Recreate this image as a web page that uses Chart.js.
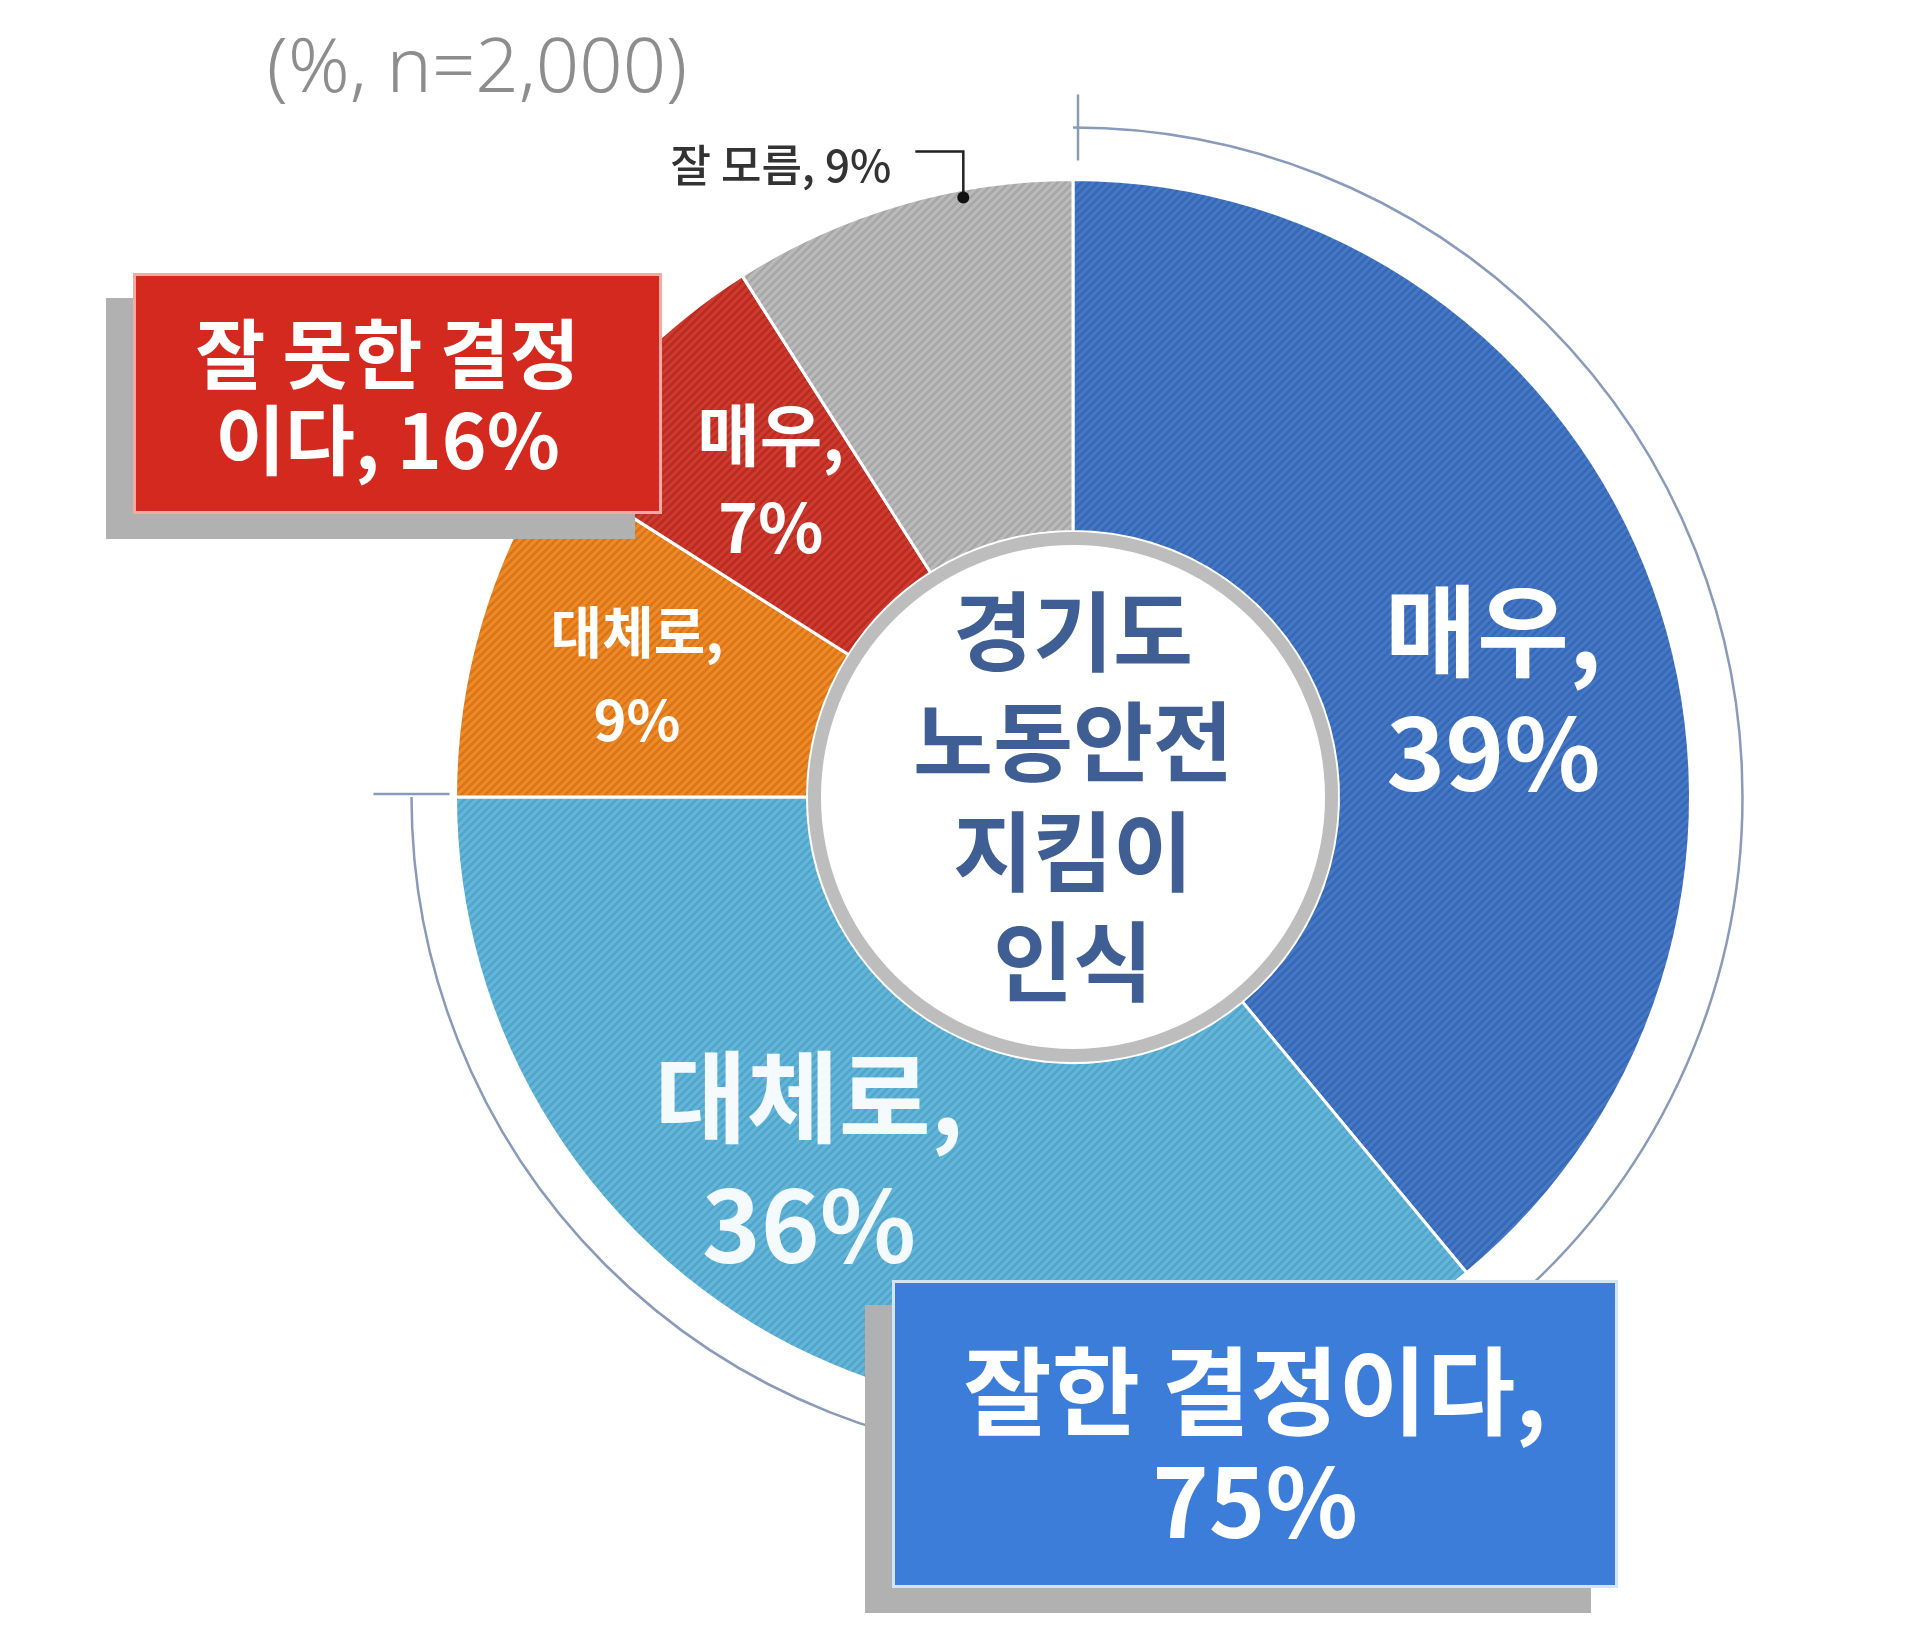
<!DOCTYPE html>
<html lang="ko">
<head>
<meta charset="utf-8">
<title>경기도 노동안전 지킴이 인식</title>
<script src="https://cdn.jsdelivr.net/npm/chart.js@4.4.1/dist/chart.umd.min.js"></script>
<style>
  html, body { margin: 0; padding: 0; background: #fff; }
  #wrap { position: relative; width: 1920px; height: 1633px; }
</style>
</head>
<body>
<div id="wrap"><canvas id="chart"></canvas></div>
<script>
// data
const sliceLabels = ['매우', '대체로', '대체로', '매우', '잘 모름'];
const sliceValues = [39, 36, 9, 7, 9];
const groupLabels = ['잘한 결정이다', '잘 못한 결정이다'];
const groupValues = [75, 16];
const centerLines = ['경기도', '노동안전', '지킴이', '인식'];
const subtitle = '(%, n=2,000)';

// styling
const baseColors = ['#4477c4', '#64b6d9', '#ee8a26', '#cf3a2e', '#bababa'];
const stripeColors = ['#3768b6', '#51a5cb', '#d9741a', '#b82c22', '#a6a6a6'];
const labelShift = [[5, 45], [-76, -35], [-12, 2], [10, -4], [0, 0]];
const labelSize = [100, 100, 56, 68, 0];
const labelGap = [122, 128, 88, 92, 0];
const KR = "'Noto Sans CJK KR', 'Noto Sans', sans-serif";

const canvas = document.getElementById('chart');

function stripes(base, line) {
  const c = document.createElement('canvas');
  c.width = 8; c.height = 8;
  const g = c.getContext('2d');
  g.fillStyle = base;
  g.fillRect(0, 0, 8, 8);
  g.strokeStyle = line;
  g.lineWidth = 2.5;
  g.beginPath();
  g.moveTo(-2, 10); g.lineTo(10, -2);
  g.moveTo(-2, 2); g.lineTo(2, -2);
  g.moveTo(6, 10); g.lineTo(10, 6);
  g.stroke();
  return canvas.getContext('2d').createPattern(c, 'repeat');
}

const patterns = baseColors.map((c, i) => stripes(c, stripeColors[i]));

function twoLines(ctx, lines, x, y, gap) {
  ctx.fillText(lines[0], x, y - gap / 2);
  ctx.fillText(lines[1], x, y + gap / 2);
}

function drawBox(ctx, x, y, w, h, fill, edge, lines, size, gap, dx, dy) {
  ctx.fillStyle = '#b1b1b1';
  ctx.fillRect(x - 27, y + 25, w, h);
  ctx.fillStyle = fill;
  ctx.fillRect(x, y, w, h);
  ctx.strokeStyle = edge;
  ctx.lineWidth = 3;
  ctx.strokeRect(x + 1.5, y + 1.5, w - 3, h - 3);
  ctx.fillStyle = '#ffffff';
  ctx.font = `700 ${size}px ${KR}`;
  twoLines(ctx, lines, x + w / 2 + dx, y + h / 2 + dy, gap);
}

const overlay = {
  id: 'overlay',
  afterDatasetsDraw(chart) {
    const ctx = chart.ctx;
    const arcs = chart.getDatasetMeta(0).data;
    const cx = arcs[0].x, cy = arcs[0].y;
    const inner = arcs[0].innerRadius, outer = arcs[0].outerRadius;
    ctx.save();
    ctx.textAlign = 'center';
    ctx.textBaseline = 'middle';

    // centre disc
    ctx.beginPath();
    ctx.arc(cx, cy, inner - 7, 0, Math.PI * 2);
    ctx.fillStyle = '#ffffff';
    ctx.fill();
    ctx.lineWidth = 13;
    ctx.strokeStyle = '#bdbdbd';
    ctx.stroke();
    ctx.fillStyle = '#3f5e94';
    ctx.font = `700 87px ${KR}`;
    centerLines.forEach((t, i) => ctx.fillText(t, cx, cy + (i - 1.5) * 110));

    // labels inside slices
    arcs.forEach((arc, i) => {
      if (!labelSize[i]) return;
      const p = arc.getCenterPoint();
      ctx.fillStyle = i === 1 ? 'rgba(255,255,255,0.93)' : '#ffffff';
      ctx.font = `700 ${labelSize[i]}px ${KR}`;
      twoLines(ctx, [sliceLabels[i] + ',', sliceValues[i] + '%'],
        p.x + labelShift[i][0], p.y + labelShift[i][1], labelGap[i]);
    });

    // brackets grouping 매우 + 대체로
    const R = outer + 52;
    ctx.strokeStyle = '#8a9aba';
    ctx.lineWidth = 2.5;
    ctx.beginPath();
    ctx.arc(cx, cy, R, arcs[0].startAngle, arcs[0].endAngle);
    ctx.stroke();
    ctx.beginPath();
    ctx.moveTo(cx + 5, cy - R - 33);
    ctx.lineTo(cx + 5, cy - R + 33);
    ctx.stroke();
    const R2 = R - 8;
    ctx.beginPath();
    ctx.arc(cx, cy, R2, arcs[1].endAngle, arcs[1].startAngle, true);
    ctx.stroke();
    ctx.beginPath();
    ctx.moveTo(cx - R2 - 38, cy - 3);
    ctx.lineTo(cx - R2 + 38, cy - 3);
    ctx.stroke();

    // leader for 잘 모름
    const g = arcs[4];
    const ang = g.startAngle + 0.68 * (g.endAngle - g.startAngle);
    const px = cx + (outer - 8) * Math.cos(ang);
    const py = cy + (outer - 8) * Math.sin(ang);
    ctx.strokeStyle = '#222';
    ctx.lineWidth = 2.5;
    ctx.beginPath();
    ctx.moveTo(px - 48, py - 46);
    ctx.lineTo(px, py - 46);
    ctx.lineTo(px, py - 4);
    ctx.stroke();
    ctx.fillStyle = '#111';
    ctx.beginPath();
    ctx.arc(px, py, 6, 0, Math.PI * 2);
    ctx.fill();
    ctx.fillStyle = '#333';
    ctx.font = `500 44px ${KR}`;
    ctx.textAlign = 'right';
    ctx.fillText(`${sliceLabels[4]}, ${sliceValues[4]}%`, px - 72, py - 32);
    ctx.textAlign = 'center';

    // group boxes
    const bad = groupLabels[1];
    drawBox(ctx, 133, 273, 529, 241, '#d3291f', '#f2aaa2',
      [bad.slice(0, -2), `${bad.slice(-2)}, ${groupValues[1]}%`], 76, 86, -10, 4);
    drawBox(ctx, 892, 1280, 726, 308, '#3b7dd8', '#d5e3f6',
      [groupLabels[0] + ',', groupValues[0] + '%'], 96, 111, 0, 12);

    // subtitle
    ctx.fillStyle = '#8d8d8d';
    ctx.font = `300 76px 'Noto Sans', sans-serif`;
    ctx.fillText(subtitle, 477, 70);
    ctx.restore();
  }
};

new Chart(canvas, {
  type: 'doughnut',
  data: {
    labels: sliceLabels,
    datasets: [{
      data: sliceValues,
      backgroundColor: patterns,
      borderColor: '#ffffff',
      borderWidth: 3,
      hoverOffset: 0
    }]
  },
  options: {
    responsive: true,
    maintainAspectRatio: false,
    animation: false,
    devicePixelRatio: 1,
    cutout: '43%',
    events: [],
    layout: { padding: { left: 454, right: 228, top: 178, bottom: 217 } },
    plugins: {
      legend: { display: false },
      tooltip: { enabled: false }
    }
  },
  plugins: [overlay]
});
</script>
</body>
</html>
